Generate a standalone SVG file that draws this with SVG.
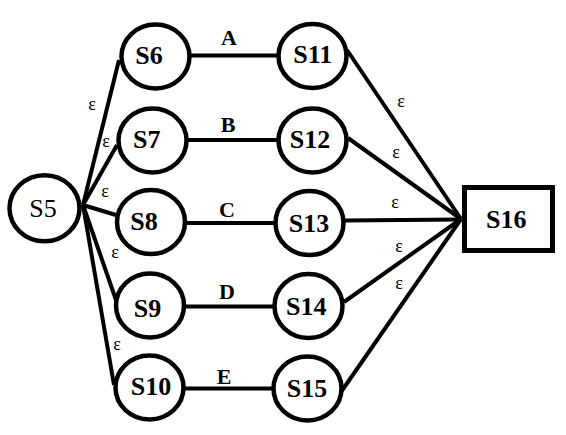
<svg xmlns="http://www.w3.org/2000/svg" width="566" height="435" viewBox="0 0 566 435">
<style>
.n{fill:#fff;stroke:#000;stroke-width:4.5}
.l{stroke:#000;stroke-width:4;fill:none}
text{font-family:'Liberation Serif','DejaVu Serif',serif;fill:#000;text-anchor:middle}
.t{font-weight:bold;font-size:26px}
.lb{font-weight:bold;font-size:22px}
.e{font-size:18px}
</style>
<rect width="566" height="435" fill="#fff"/>
<g id="connectors">
<line class="l" x1="83" y1="205" x2="119" y2="60"/>
<line class="l" x1="83" y1="205" x2="117" y2="145"/>
<line class="l" x1="83" y1="205" x2="116" y2="215"/>
<line class="l" x1="83" y1="205" x2="116" y2="300"/>
<line class="l" x1="83" y1="205" x2="114" y2="385"/>
<line class="l" x1="190" y1="55.5" x2="279" y2="55.5"/>
<line class="l" x1="186" y1="140" x2="279" y2="140"/>
<line class="l" x1="185" y1="223" x2="276" y2="223"/>
<line class="l" x1="184" y1="306.5" x2="275" y2="306.5"/>
<line class="l" x1="183" y1="388.5" x2="274" y2="388.5"/>
<line class="l" x1="347" y1="50" x2="461" y2="219"/>
<line class="l" x1="348" y1="138" x2="461" y2="219"/>
<line class="l" x1="344" y1="220.5" x2="461" y2="219.5"/>
<line class="l" x1="344" y1="302" x2="461" y2="219"/>
<line class="l" x1="341" y1="392" x2="461" y2="219"/>
<text class="e" x="92" y="110">ε</text>
<text class="e" x="106" y="147">ε</text>
<text class="e" x="105" y="197">ε</text>
<text class="e" x="115" y="258">ε</text>
<text class="e" x="117" y="350">ε</text>
<text class="e" x="401" y="107">ε</text>
<text class="e" x="396" y="158">ε</text>
<text class="e" x="395" y="208">ε</text>
<text class="e" x="399" y="252">ε</text>
<text class="e" x="399" y="289">ε</text>
<text class="lb" x="229" y="45">A</text>
<text class="lb" x="228" y="131.5">B</text>
<text class="lb" x="227" y="217">C</text>
<text class="lb" x="227" y="299">D</text>
<text class="lb" x="224" y="384">E</text>
</g>
<g id="S5"><ellipse class="n" cx="44.5" cy="208.3" rx="35" ry="33"/><text x="43" y="216.5" font-size="26">S5</text></g>
<g id="S6"><ellipse class="n" cx="155.5" cy="56.5" rx="34" ry="32"/><text class="t" x="149" y="64">S6</text></g>
<g id="S7"><ellipse class="n" cx="152.5" cy="140.5" rx="34" ry="32"/><text class="t" x="146.7" y="148.3">S7</text></g>
<g id="S8"><ellipse class="n" cx="151" cy="222" rx="34" ry="32"/><text class="t" x="144" y="230">S8</text></g>
<g id="S9"><ellipse class="n" cx="150" cy="305.5" rx="34" ry="32"/><text class="t" x="147.5" y="317">S9</text></g>
<g id="S10"><ellipse class="n" cx="149.5" cy="387.5" rx="34" ry="32"/><text class="t" x="151" y="395">S10</text></g>
<g id="S11"><ellipse class="n" cx="312.5" cy="56" rx="34" ry="32"/><text class="t" x="312.7" y="63.3">S11</text></g>
<g id="S12"><ellipse class="n" cx="312.5" cy="140.5" rx="34" ry="32"/><text class="t" x="310" y="148.3">S12</text></g>
<g id="S13"><ellipse class="n" cx="309.5" cy="223" rx="34" ry="32"/><text class="t" x="309" y="231.5">S13</text></g>
<g id="S14"><ellipse class="n" cx="308.5" cy="306" rx="34" ry="32"/><text class="t" x="306.3" y="315">S14</text></g>
<g id="S15"><ellipse class="n" cx="307.5" cy="388.5" rx="34" ry="32"/><text class="t" x="307" y="397">S15</text></g>
<g id="S16"><rect x="464.5" y="187.5" width="88" height="63" fill="#fff" stroke="#000" stroke-width="5"/><text class="t" x="506.3" y="228.3">S16</text></g>
</svg>
